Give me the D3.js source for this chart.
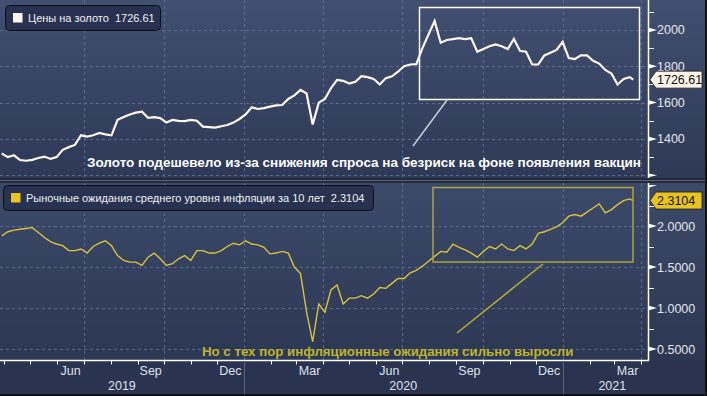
<!DOCTYPE html>
<html>
<head>
<meta charset="utf-8">
<style>
  body { margin: 0; background: #2b3451; }
  svg { display: block; font-family: 'Liberation Sans', Arial, sans-serif; }
</style>
</head>
<body>
<svg id="chart" width="707" height="396"></svg>
<script src="https://d3js.org/d3.v7.min.js"></script>
<script>

// weekly readings, first week ends 2019-03-29
let firstWeek = Date.UTC(2019, 2, 29)

let gold = [1320, 1300, 1310, 1284, 1280, 1285, 1295, 1303, 1290, 1300,
            1340, 1355, 1367, 1420, 1413, 1420, 1433, 1425, 1420, 1505,
            1521, 1535, 1545, 1550, 1516, 1520, 1515, 1490, 1505, 1500,
            1498, 1505, 1500, 1468, 1465, 1462, 1470, 1477, 1490, 1510,
            1535, 1574, 1565, 1570, 1578, 1585, 1587, 1620, 1640, 1670,
            1650, 1480, 1600, 1620, 1680, 1725, 1720, 1705, 1715, 1745,
            1740, 1730, 1700, 1735, 1745, 1770, 1800, 1810, 1812, 1900,
            1975, 2050, 1930, 1945, 1950, 1955, 1950, 1955, 1880, 1895,
            1910, 1920, 1910, 1895, 1950, 1885, 1880, 1810, 1810, 1860,
            1875, 1890, 1935, 1845, 1840, 1860, 1860, 1830, 1815, 1780,
            1760, 1700, 1730, 1740]

let breakeven = [1.88, 1.93, 1.95, 1.96, 1.97, 1.98, 1.92, 1.86, 1.81, 1.78,
                 1.76, 1.70, 1.70, 1.72, 1.67, 1.75, 1.79, 1.82, 1.76, 1.64,
                 1.58, 1.56, 1.56, 1.52, 1.62, 1.67, 1.60, 1.52, 1.54, 1.60,
                 1.64, 1.58, 1.70, 1.70, 1.67, 1.67, 1.70, 1.75, 1.79, 1.77,
                 1.82, 1.78, 1.77, 1.74, 1.66, 1.67, 1.69, 1.67, 1.50, 1.42,
                 0.95, 0.59, 1.05, 0.95, 1.22, 1.28, 1.05, 1.12, 1.12, 1.15,
                 1.12, 1.17, 1.25, 1.24, 1.30, 1.36, 1.36, 1.43, 1.46, 1.51,
                 1.57, 1.63, 1.69, 1.68, 1.78, 1.74, 1.71, 1.67, 1.62, 1.69,
                 1.75, 1.72, 1.78, 1.72, 1.70, 1.76, 1.72, 1.78, 1.91, 1.93,
                 1.96, 1.99, 2.04, 2.12, 2.14, 2.12, 2.17, 2.22, 2.27, 2.16,
                 2.20, 2.26, 2.31, 2.33]

let lastDate = Date.UTC(2021, 2, 23)
let lastGold = 1726.61
let lastBreakeven = 2.3104

let goldTicks = [1200, 1400, 1600, 1800, 2000]
let goldMinor = [1300, 1500, 1700, 1900, 2100]
let beTicks = [0.5, 1.0, 1.5, 2.0, 2.5]
let beMinor = [0.75, 1.25, 1.75, 2.25]
let monthLabels = ["Jun", "Sep", "Dec", "Mar", "Jun", "Sep", "Dec", "Mar"]
let years = ["2019", "2020", "2021"]

let goldTitle = "Цены на золото"
let beTitle = "Рыночные ожидания среднего уровня инфляции за 10 лет"
let goldNote = "Золото подешевело из-за снижения спроса на безриск на фоне появления вакцин"
let beNote = "Но с тех пор инфляционные ожидания сильно выросли"

let goldData = gold.map((v, i) => ({date: new Date(firstWeek + i * 7 * 864e5), value: v}))
goldData.push({date: new Date(lastDate), value: lastGold})
let beData = breakeven.map((v, i) => ({date: new Date(firstWeek + i * 7 * 864e5), value: v}))
beData.push({date: new Date(lastDate), value: lastBreakeven})

let W = 707, H = 396
let plotRight = 648
let top1 = 0, bot1 = 178
let top2 = 183, bot2 = 360

let svg = d3.select("#chart")

let x = d3.scaleUtc()
    .domain([new Date(Date.UTC(2019, 2, 27)), new Date(Date.UTC(2021, 3, 9))])
    .range([0, plotRight])

let yGold = d3.scaleLinear().domain([2165, 1185]).range([top1, bot1])
let yBe = d3.scaleLinear().domain([2.5244, 0.3659]).range([top2, bot2])

// backgrounds
let defs = svg.append("defs")
function grad(id, c1, c2) {
    let g = defs.append("linearGradient").attr("id", id)
        .attr("x1", 0).attr("y1", 0).attr("x2", 0).attr("y2", 1)
    g.append("stop").attr("offset", 0).attr("stop-color", c1)
    g.append("stop").attr("offset", 1).attr("stop-color", c2)
}
grad("bg1", "#414f70", "#2d3956")
grad("bg2", "#3c4a6a", "#2c3753")

svg.append("rect").attr("width", W).attr("height", H).attr("fill", "#2a3350")
svg.append("rect").attr("x", 0).attr("y", top1).attr("width", W).attr("height", bot1 - top1).attr("fill", "url(#bg1)")
svg.append("rect").attr("x", 0).attr("y", top2).attr("width", W).attr("height", bot2 - top2).attr("fill", "url(#bg2)")
svg.append("rect").attr("x", 0).attr("y", bot1).attr("width", W).attr("height", top2 - bot1).attr("fill", "#232a3e")
svg.append("line").attr("x1", 0).attr("x2", W).attr("y1", 180.5).attr("y2", 180.5)
    .attr("stroke", "#5d6170").attr("stroke-width", 1)

// grid
let quarters = d3.utcMonth.every(3).range(new Date(Date.UTC(2019, 6, 1)), new Date(Date.UTC(2021, 4, 1)))
let grid = svg.append("g").attr("stroke", "#64749a").attr("stroke-width", 1)
    .attr("stroke-dasharray", "3,3").attr("opacity", 0.8)
quarters.forEach(d => {
    let xx = Math.round(x(d)) + 0.5
    grid.append("line").attr("x1", xx).attr("x2", xx).attr("y1", top1).attr("y2", bot1)
    grid.append("line").attr("x1", xx).attr("x2", xx).attr("y1", top2).attr("y2", bot2)
})
goldTicks.forEach(v => {
    let yy = Math.round(yGold(v)) + 0.5
    grid.append("line").attr("x1", 0).attr("x2", plotRight).attr("y1", yy).attr("y2", yy)
})
beTicks.filter(v => v < 2.4).forEach(v => {
    let yy = Math.round(yBe(v)) + 0.5
    grid.append("line").attr("x1", 0).attr("x2", plotRight).attr("y1", yy).attr("y2", yy)
})

// lines
svg.append("path").datum(goldData)
    .attr("d", d3.line().x(d => x(d.date)).y(d => yGold(d.value)))
    .attr("fill", "none").attr("stroke", "#fff6f0").attr("stroke-width", 2.2)
    .attr("stroke-linejoin", "miter")

svg.append("path").datum(beData)
    .attr("d", d3.line().x(d => x(d.date)).y(d => yBe(d.value)))
    .attr("fill", "none").attr("stroke", "#d9c33a").attr("stroke-width", 1.4)

// annotations
svg.append("rect").attr("x", 419.5).attr("y", 7.5).attr("width", 220).attr("height", 92)
    .attr("fill", "none").attr("stroke", "#ffffff").attr("stroke-width", 1.5)
svg.append("line").attr("x1", 413).attr("y1", 146).attr("x2", 447).attr("y2", 100)
    .attr("stroke", "#c9cdd8").attr("stroke-width", 1.5)
svg.append("text").attr("x", 87).attr("y", 167).text(goldNote)
    .attr("fill", "#ffffff").attr("font-weight", "bold").attr("font-size", 13.5)

svg.append("rect").attr("x", 433).attr("y", 187.5).attr("width", 200).attr("height", 74.5)
    .attr("fill", "none").attr("stroke", "#aaa53a").attr("stroke-width", 1.5)
svg.append("line").attr("x1", 457).attr("y1", 333).attr("x2", 543).attr("y2", 264)
    .attr("stroke", "#b4ad32").attr("stroke-width", 1.5)
svg.append("text").attr("x", 202).attr("y", 356).text(beNote)
    .attr("fill", "#bdb42c").attr("font-weight", "bold").attr("font-size", 13.25)

// right axes
let axisCol = "#ffffff"
svg.append("line").attr("x1", plotRight + 0.5).attr("x2", plotRight + 0.5).attr("y1", top1).attr("y2", bot1)
    .attr("stroke", axisCol).attr("stroke-width", 1.5)
svg.append("line").attr("x1", plotRight + 0.5).attr("x2", plotRight + 0.5).attr("y1", top2).attr("y2", bot2 + 0.5)
    .attr("stroke", axisCol).attr("stroke-width", 1.5)

function rightAxis(scale, major, minor, fmt) {
    let g = svg.append("g")
    major.forEach(v => {
        let yy = scale(v)
        g.append("path").attr("d", `M${plotRight},${yy - 2.5}L${plotRight + 9},${yy}L${plotRight},${yy + 2.5}Z`)
            .attr("fill", axisCol)
        g.append("text").attr("x", plotRight + 9).attr("y", yy + 4.5).text(fmt(v))
            .attr("fill", "#e4e6ec").attr("font-size", 12.5)
    })
    minor.forEach(v => {
        let yy = Math.round(scale(v)) + 0.5
        g.append("line").attr("x1", plotRight).attr("x2", plotRight + 6).attr("y1", yy).attr("y2", yy)
            .attr("stroke", axisCol)
    })
}
rightAxis(yGold, goldTicks.filter(v => v > 1300), goldMinor, d3.format("d"))
svg.append("path").attr("d", `M${plotRight},${yGold(1200) - 2}L${plotRight + 9},${yGold(1200)}L${plotRight},${yGold(1200) + 2}Z`)
    .attr("fill", axisCol)
rightAxis(yBe, beTicks.filter(v => v < 2.4), beMinor, d3.format(".4f"))
svg.append("path").attr("d", `M${plotRight},${yBe(2.5)}L${plotRight + 9},${yBe(2.5)}L${plotRight},${yBe(2.5) + 3}Z`)
    .attr("fill", axisCol)

// value tags
function tag(yy, label, fill) {
    let g = svg.append("g")
    g.append("path")
        .attr("d", `M${plotRight + 2},${yy}L${plotRight + 8},${yy - 8.5}H702V${yy + 8.5}H${plotRight + 8}Z`)
        .attr("fill", fill).attr("stroke", "#1a1a1a").attr("stroke-width", 0.8)
    g.append("text").attr("x", plotRight + 9).attr("y", yy + 4.5).text(label)
        .attr("fill", "#111").attr("font-size", 12.5)
}
tag(yGold(lastGold), d3.format(".2f")(lastGold), "#fdf4ea")
tag(yBe(lastBreakeven), d3.format(".4f")(lastBreakeven), "#e8c41c")

// bottom axis
svg.append("line").attr("x1", 0).attr("x2", plotRight + 1).attr("y1", bot2 + 0.5).attr("y2", bot2 + 0.5)
    .attr("stroke", axisCol).attr("stroke-width", 1.5)
let months = d3.utcMonth.range(x.domain()[0], x.domain()[1])
months.forEach(d => {
    let xx = Math.round(x(d)) + 0.5
    svg.append("line").attr("x1", xx).attr("x2", xx).attr("y1", bot2).attr("y2", bot2 + 4.5)
        .attr("stroke", axisCol)
})
let labelMonths = d3.utcMonth.range(new Date(Date.UTC(2019, 5, 1)), new Date(Date.UTC(2021, 3, 1)), 3)
labelMonths.forEach((d, i) => {
    let mid = (x(d) + x(d3.utcMonth.offset(d, 1))) / 2
    svg.append("text").attr("x", mid).attr("y", 375).attr("text-anchor", "middle")
        .text(monthLabels[i]).attr("fill", "#dfe2ea").attr("font-size", 12.5)
})
years.forEach((yr, i) => {
    let s = Math.max(0, x(new Date(Date.UTC(+yr, 0, 1))))
    let e = Math.min(662, x(new Date(Date.UTC(+yr + 1, 0, 1))))
    if (i > 0) {
        svg.append("line").attr("x1", Math.round(s) + 0.5).attr("x2", Math.round(s) + 0.5)
            .attr("y1", bot2 + 1).attr("y2", H).attr("stroke", "#5b6378")
    }
    svg.append("text").attr("x", (s + e) / 2).attr("y", 390).attr("text-anchor", "middle")
        .text(yr).attr("fill", "#dfe2ea").attr("font-size", 12.5)
})

// legends
function legend(x0, y0, w, label, value, color) {
    let g = svg.append("g")
    g.append("rect").attr("x", x0 + 0.5).attr("y", y0 + 0.5).attr("width", w).attr("height", 25).attr("rx", 4)
        .attr("fill", "#283250").attr("stroke", "#0d0f16").attr("stroke-width", 1)
    g.append("rect").attr("x", x0 + 8).attr("y", y0 + 8).attr("width", 9.5).attr("height", 9.5).attr("fill", color)
    g.append("text").attr("x", x0 + 23).attr("y", y0 + 17).text(label + "  " + value)
        .attr("fill", "#eef0f4").attr("font-size", 11).attr("xml:space", "preserve")
}
legend(5, 5, 155, goldTitle, d3.format(".2f")(lastGold), "#fff4ee")
legend(3, 185, 370, beTitle, d3.format(".4f")(lastBreakeven), "#e8c41c")

// frame edges
svg.append("rect").attr("x", 0).attr("y", H - 2).attr("width", W).attr("height", 2).attr("fill", "#10131c")
svg.append("rect").attr("x", W - 2).attr("y", 0).attr("width", 2).attr("height", H).attr("fill", "#10131c")

</script>
</body>
</html>
